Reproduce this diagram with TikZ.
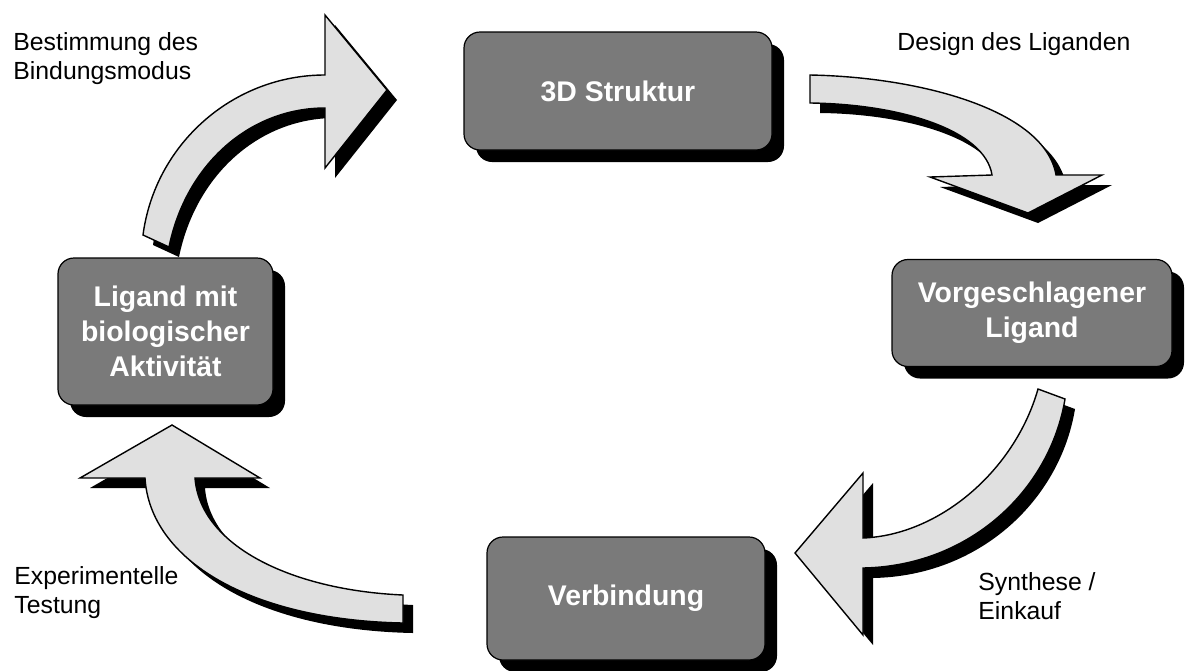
\documentclass[tikz,border=0pt]{standalone}
\usepackage{fontspec}
\setmainfont{Liberation Sans}
\definecolor{boxgray}{gray}{0.48}
\definecolor{arrowgray}{gray}{0.88}

\begin{document}
\begin{tikzpicture}[x=0.5pt, y=-0.5pt,
  box/.style={draw=black, line width=0.6pt, fill=boxgray, rounded corners=8pt,
    text=white, font=\fontsize{14.2}{17.5}\selectfont\bfseries, align=center, inner sep=0pt,
    preaction={fill=black, transform canvas={xshift=6pt, yshift=-6pt}}},
  bigarrow/.style={draw=black, line width=0.7pt, fill=arrowgray,
    preaction={fill=black, transform canvas={xshift=5pt, yshift=-5pt}}},
  steplabel/.style={font=\fontsize{12.4}{14.5}\selectfont, align=left, anchor=north west, inner sep=0pt}]
  \useasboundingbox (0,0) rectangle (1187,670);

  \node [box, minimum width=154pt, minimum height=59pt] (struktur) at (618,91) {3D Struktur};
  \node [box, minimum width=140pt, minimum height=53.5pt] (vorschlag) at (1032,313) {Vorgeschlagener\\Ligand};
  \node [box, minimum width=139pt, minimum height=61.5pt] (verbindung) at (626,598.5) {Verbindung};
  \node [box, minimum width=107.5pt, minimum height=73.5pt] (aktiv) at (165.5,331.5) {Ligand mit\\biologischer\\Aktivität};

  \draw [bigarrow] (143,235) .. controls (155,144) and (233,75) .. (325,75) -- (325,15) -- (387,90)
    -- (325,168) -- (325,108) .. controls (250,108) and (186,164) .. (169,247) -- cycle;
  \draw [bigarrow] (810,75) .. controls (920,77) and (1045,110) .. (1056,175) -- (1102,175) -- (1028,213)
    -- (930,177) -- (992,175) .. controls (985,130) and (900,104) .. (810,103) -- cycle;
  \draw [bigarrow] (1038,389) -- (1065,399) .. controls (1050,490) and (970,566) .. (863,568) -- (863,635)
    -- (795,553) -- (863,473) -- (863,538) .. controls (940,535) and (1015,470) .. (1038,389) -- cycle;
  \draw [bigarrow] (403,595) -- (403,623) .. controls (250,620) and (150,560) .. (145,478) -- (80,478)
    -- (172,425) -- (260,478) -- (195,478) .. controls (200,545) and (290,590) .. (403,595) -- cycle;

  \node [steplabel] (bindung) at (13,32) {Bestimmung des\\Bindungsmodus};
  \node [steplabel] (design) at (897,32) {Design des Liganden};
  \node [steplabel] (synthese) at (978,572) {Synthese /\\Einkauf};
  \node [steplabel] (testung) at (14,566) {Experimentelle\\Testung};
\end{tikzpicture}
\end{document}
